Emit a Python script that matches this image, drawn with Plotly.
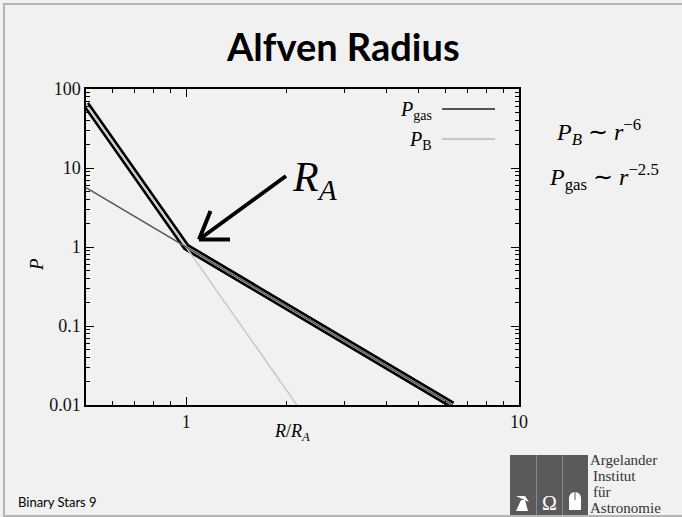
import plotly.graph_objects as go

# ---- data ----
r_gas = [0.5, 6.31]
p_gas = [5.66, 0.01]
r_B = [0.5, 2.15]
p_B = [64.0, 0.01]
r_max = [0.5, 1.0, 6.31]
p_max = [64.0, 1.0, 0.01]

x_tickvals = [1, 10]
x_ticktext = ["1", "10"]
x_minor = [0.6, 0.7, 0.8, 0.9, 2, 3, 4, 5, 6, 7, 8, 9]
y_tickvals = [0.01, 0.1, 1, 10, 100]
y_ticktext = ["0.01", "0.1", "1", "10", "100"]
y_minor = [m * d for d in [0.01, 0.1, 1, 10] for m in range(2, 10)]

W, H = 682, 517
L, R, T, B = 86, 519, 89, 405
BG = "#f1f1f1"


def px(x):
    return (x - L) / (R - L)


def py(y):
    return (B - y) / (B - T)


SERIF = "Liberation Serif, Times New Roman, serif"
SANS = "Lato, Carlito, Open Sans, sans-serif"

fig = go.Figure()
fig.add_trace(go.Scatter(x=r_max, y=p_max, mode="lines",
                         line=dict(color="black", width=7.5), showlegend=False, hoverinfo="skip"))
fig.add_trace(go.Scatter(x=r_max, y=p_max, mode="lines",
                         line=dict(color=BG, width=2.2), showlegend=False, hoverinfo="skip"))
fig.add_trace(go.Scatter(x=r_B, y=p_B, mode="lines", name="P_B",
                         line=dict(color="#c8c8c8", width=1.5), showlegend=False))
fig.add_trace(go.Scatter(x=r_gas, y=p_gas, mode="lines", name="P_gas",
                         line=dict(color="#555555", width=1.5), showlegend=False))

axis_common = dict(type="log", showline=True, linecolor="black", linewidth=1.5,
                   mirror="ticks", ticks="inside", ticklen=8, tickcolor="black",
                   showgrid=False, zeroline=False,
                   tickfont=dict(family=SERIF, size=18, color="#111"))

fig.update_xaxes(range=[-0.30103, 1], tickvals=x_tickvals, ticktext=x_ticktext,
                 minor=dict(tickvals=x_minor, ticks="inside", ticklen=4, tickcolor="black"),
                 **axis_common)
fig.update_yaxes(range=[-2, 2], tickvals=y_tickvals, ticktext=y_ticktext,
                 minor=dict(tickvals=y_minor, ticks="inside", ticklen=4, tickcolor="black"),
                 **axis_common)

shapes = []
# slide border
shapes.append(dict(type="rect", xref="paper", yref="paper", x0=px(4), x1=px(700),
                   y0=py(516), y1=py(4), line=dict(color="#b5b5b5", width=2), layer="below"))
# legend samples
shapes.append(dict(type="line", xref="paper", yref="paper", x0=px(442), x1=px(495),
                   y0=py(109), y1=py(109), line=dict(color="#555555", width=2)))
shapes.append(dict(type="line", xref="paper", yref="paper", x0=px(442), x1=px(495),
                   y0=py(139), y1=py(139), line=dict(color="#c8c8c8", width=2)))
# R_A arrow
for (x0, y0, x1, y1) in [(286, 176, 199, 239.5), (199, 239.5, 210.5, 211), (199, 239.5, 230, 239.5)]:
    shapes.append(dict(type="line", xref="paper", yref="paper", x0=px(x0), x1=px(x1),
                       y0=py(y0), y1=py(y1), line=dict(color="black", width=4)))
# logo boxes
shapes.append(dict(type="rect", xref="paper", yref="paper", x0=px(510), x1=px(588),
                   y0=py(515), y1=py(455), fillcolor="#5a5a5a", line=dict(width=0)))
for xs in [536.5, 562.5]:
    shapes.append(dict(type="line", xref="paper", yref="paper", x0=px(xs), x1=px(xs),
                       y0=py(515), y1=py(455), line=dict(color="#8a8a8a", width=1)))
# dome icon
shapes.append(dict(type="rect", xref="paper", yref="paper", x0=px(569), x1=px(581),
                   y0=py(510), y1=py(498), fillcolor="white", line=dict(width=0)))
shapes.append(dict(type="circle", xref="paper", yref="paper", x0=px(569), x1=px(581),
                   y0=py(504), y1=py(492), fillcolor="white", line=dict(width=0)))
shapes.append(dict(type="line", xref="paper", yref="paper", x0=px(575), x1=px(575),
                   y0=py(492), y1=py(500), line=dict(color="#5a5a5a", width=1)))
# dish icon
shapes.append(dict(type="path", xref="paper", yref="paper",
                   path=f"M {px(516)} {py(496)} L {px(529)} {py(502)} L {px(525)} {py(496)} Z",
                   fillcolor="white", line=dict(width=0)))
shapes.append(dict(type="path", xref="paper", yref="paper",
                   path=f"M {px(521)} {py(500)} L {px(525)} {py(500)} L {px(528)} {py(511)} L {px(516)} {py(511)} Z",
                   fillcolor="white", line=dict(width=0)))

annotations = []


def ann(x, y, text, size, family, xanchor="center", yanchor="middle", color="black", **kw):
    d = dict(xref="paper", yref="paper", x=px(x), y=py(y), text=text,
             showarrow=False, xanchor=xanchor, yanchor=yanchor,
             font=dict(size=size, family=family, color=color))
    d.update(kw)
    annotations.append(d)


ann(343, 46, "<b>Alfven Radius</b>", 38, SANS)
ann(434, 110, "<i>P</i><sub>gas</sub>", 20, SERIF, xanchor="right")
ann(434, 140, "<i>P</i><sub>B</sub>", 20, SERIF, xanchor="right")
ann(290, 180, "<i>R</i><sub><i>A</i></sub>", 42, SERIF, xanchor="left")
ann(36, 265, "<i>P</i>", 19, SERIF, textangle=-90)
ann(292, 432, "<i>R</i>/<i>R</i><sub><i>A</i></sub>", 18, SERIF)
ann(598, 132, "<i>P</i><sub><i>B</i></sub> ∼ <i>r</i><sup>−6</sup>", 24, SERIF)
ann(604, 177, "<i>P</i><sub>gas</sub> ∼ <i>r</i><sup>−2.5</sup>", 24, SERIF)
ann(16, 502, "Binary Stars 9", 13, SANS, xanchor="left")
ann(549.5, 503, "Ω", 20, SERIF, color="white")
for text, xx, yy in [("Argelander", 588, 460), ("Institut", 591, 476),
                     ("für", 591, 492), ("Astronomie", 588, 508)]:
    ann(xx, yy, text, 15, SERIF, xanchor="left", color="#333")

fig.update_layout(width=W, height=H, margin=dict(l=L, r=W - R, t=T, b=H - B),
                  paper_bgcolor=BG, plot_bgcolor=BG, shapes=shapes, annotations=annotations,
                  showlegend=False)

fig.write_html("out.html", config={"displayModeBar": False},
               post_script="document.body.style.margin='0';document.body.style.overflow='hidden';")
